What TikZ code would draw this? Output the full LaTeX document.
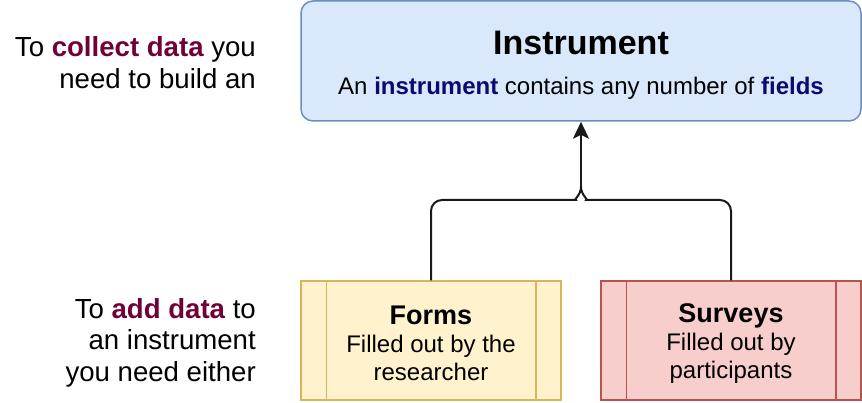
\documentclass[tikz,border=0pt]{standalone}
\usepackage{fontspec}
\setmainfont{Liberation Sans}
\usetikzlibrary{arrows.meta}
\definecolor{instfill}{HTML}{DAE8FC}
\definecolor{instline}{HTML}{6C8EBF}
\definecolor{formfill}{HTML}{FFF2CC}
\definecolor{formline}{HTML}{D6B656}
\definecolor{survfill}{HTML}{F8CECC}
\definecolor{survline}{HTML}{B85450}
\definecolor{keyred}{HTML}{700038}
\definecolor{keyblue}{HTML}{0A0A70}
\begin{document}
\begin{tikzpicture}[x=1pt, y=1pt,
    box/.style={draw=instline, fill=instfill, line width=1.5pt, rounded corners=12pt,
      minimum width=560pt, minimum height=120pt, align=center, inner sep=0pt,
      font=\fontsize{24}{28}\selectfont},
    proc/.style={line width=1.5pt, minimum width=260pt, minimum height=119pt,
      align=center, inner sep=0pt, font=\fontsize{24}{28}\selectfont},
    note/.style={anchor=east, align=right, inner sep=0pt, font=\fontsize{27.6}{31.5}\selectfont},
    link/.style={line width=2pt, draw=black!90}]

        \useasboundingbox (0,0) rectangle (862,402);

        % Instrument
        \node[box] (inst) at (581,341) {\rule{0pt}{32pt}{\fontsize{34}{36}\selectfont\bfseries Instrument}\\[12pt]
          An \textcolor{keyblue}{\bfseries instrument} contains any number of \textcolor{keyblue}{\bfseries fields}};

        % Forms and Surveys
        \node[proc, draw=formline, fill=formfill] (forms) at (431,61.5)
          {\rule{0pt}{25pt}{\fontsize{27}{30}\selectfont\bfseries Forms}\\Filled out by the\\researcher};
        \node[proc, draw=survline, fill=survfill] (surv) at (731,61.5)
          {\rule{0pt}{25pt}{\fontsize{27}{30}\selectfont\bfseries Surveys}\\Filled out by\\participants};
        \foreach \n/\c in {forms/formline, surv/survline} {
          \draw[\c, line width=1.5pt] ([xshift=26pt]\n.north west) -- ([xshift=26pt]\n.south west);
          \draw[\c, line width=1.5pt] ([xshift=-26pt]\n.north east) -- ([xshift=-26pt]\n.south east);
        }

        % Arrows
        \coordinate (join) at (581,215);
        \draw[link] (forms.north) [rounded corners=11pt] |- ([shift={(-16pt,-13pt)}]join)
          [sharp corners] to[out=0,in=-90] (join);
        \draw[link] (surv.north) [rounded corners=11pt] |- ([shift={(16pt,-13pt)}]join)
          [sharp corners] to[out=180,in=-90] (join);
        \draw[link, -{Stealth[length=17pt,width=16pt,inset=4pt]}] (join) -- (inst.south);

        % Notes
        \node[note] (collect) at (256,339.5)
          {To \textcolor{keyred}{\bfseries collect data} you\\need to build an};
        \node[note] (add) at (256,59.5)
          {To \textcolor{keyred}{\bfseries add data} to\\an instrument\\you need either};

\end{tikzpicture}
\end{document}
